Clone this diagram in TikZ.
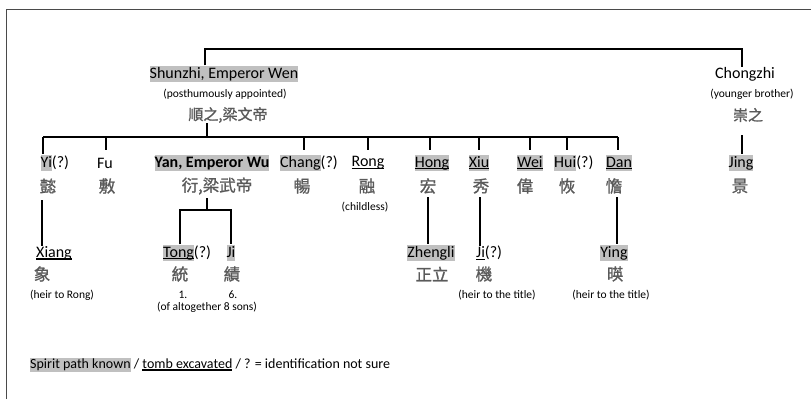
\documentclass[tikz,border=0pt]{standalone}
\usepackage{fontspec}
\setmainfont{Carlito}
\newfontfamily\cjk[FakeBold=1.2]{Noto Sans CJK TC}
\definecolor{hlgray}{HTML}{C0C0C0}
\definecolor{cjkgray}{HTML}{5A5A5A}
\definecolor{framegray}{HTML}{4A4A4A}
\newsavebox\ulbox
\newcommand\ul[1]{\sbox\ulbox{#1}\rlap{\rule[-0.15em]{\wd\ulbox}{0.09em}}\usebox\ulbox}
\newcommand\hl[1]{{\setlength{\fboxsep}{0pt}\colorbox{hlgray}{\rule[-0.27em]{0pt}{1.05em}#1}}}
\tikzset{
  nm/.style={font=\fontsize{16}{19}\selectfont, inner sep=0pt},
  nmb/.style={font=\fontsize{16}{19}\selectfont\bfseries, inner sep=0pt},
  ck/.style={font=\cjk\fontsize{16.5}{19}\selectfont, text=cjkgray, inner sep=0pt},
  cks/.style={font=\cjk\fontsize{15}{18}\selectfont, text=cjkgray, inner sep=0pt},
  sm/.style={font=\fontsize{11.5}{13}\selectfont, inner sep=0pt},
  lg/.style={font=\fontsize{14}{17}\selectfont, inner sep=0pt},
  conn/.style={line width=2.6pt},
}
\begin{document}
\begin{tikzpicture}[x=1pt,y=-1pt]
\useasboundingbox (0,0) rectangle (811,399);
\draw[framegray, line width=1.6pt] (6.5,399) -- (6.5,9.5) -- (811,9.5);

% top generation
\node[nm] (sz) at (224,74) {\hl{Shunzhi, Emperor Wen}};
\node[sm] (szn) at (225,94) {(posthumously appointed)};
\node[cks] (szc) at (228,115) {順之,梁文帝};
\node[nm] (cz) at (745,74) {Chongzhi};
\node[sm] (czn) at (752,94) {(younger brother)};
\node[cks] (czc) at (748,115) {崇之};

\coordinate (tl) at (205,49);
\coordinate (tr) at (742,49);
\draw[conn] (tl |- sz.north) -- (tl) -- (tr) -- (tr |- cz.north);

% children
\node[nm, anchor=west] (yi) at (40.5,163) {\hl{Yi}(?)};
\node[nm] (fu) at (105,163) {Fu};
\node[nmb] (yan) at (212,163) {\hl{Yan, Emperor Wu}};
\node[nm, anchor=west] (chang) at (280,163) {\hl{Chang}(?)};
\node[nm] (rong) at (368,163) {\ul{Rong}};
\node[nm] (hong) at (432,163) {\hl{\ul{Hong}}};
\node[nm] (xiu) at (479,163) {\hl{\ul{Xiu}}};
\node[nm] (wei) at (530,163) {\hl{\ul{Wei}}};
\node[nm, anchor=west] (hui) at (554,163) {\hl{Hui}(?)};
\node[nm] (dan) at (619,163) {\hl{\ul{Dan}}};
\node[nm] (jing) at (741,163) {\hl{Jing}};

\node[ck] (yic) at (48,186) {懿};
\node[ck] (fuc) at (107,186) {敷};
\node[ck] (yanc) at (217,186) {衍,梁武帝};
\node[ck] (changc) at (302,186) {暢};
\node[ck] (rongc) at (367,186) {融};
\node[ck] (hongc) at (428,186) {宏};
\node[ck] (xiuc) at (481,186) {秀};
\node[ck] (weic) at (525,186) {偉};
\node[ck] (huic) at (567,186) {恢};
\node[ck] (danc) at (614,186) {憺};
\node[ck] (jingc) at (740,186) {景};
\node[sm] (childless) at (365,207) {(childless)};

\coordinate (bl) at (43,137);
\coordinate (br) at (618,137);
\draw[conn] (bl) -- (br);
\draw[conn] (207,137) coordinate (bm) -- (bm |- szc.south);
\draw[conn] (bl) -- (bl |- yi.north);
\foreach \n/\x in {fu/106, chang/304, rong/368, hong/430, xiu/479, wei/530, hui/567, dan/618}
  \draw[conn] (\x,137) -- (\x,150);
\draw[conn] (742,135) coordinate (jt) -- (jt |- jing.north);

% grandchildren
\node[nm] (xiang) at (54,253) {\ul{Xiang}};
\node[ck] (xiangc) at (42,274) {象};
\node[sm] (xiangn) at (62,295) {(heir to Rong)};

\node[nm, anchor=west] (tong) at (163,253) {\hl{\ul{Tong}}(?)};
\node[ck] (tongc) at (180,274) {統};
\node[sm] (tongn) at (183,295) {1.};
\node[nm] (ji) at (231,253) {\hl{Ji}};
\node[ck] (jic) at (232,274) {績};
\node[sm] (jin) at (233,295) {6.};
\node[sm] (sons) at (207,307) {(of altogether 8 sons)};

\node[nm] (zl) at (431,253) {\hl{Zhengli}};
\node[ck] (zlc) at (432,274) {正立};

\node[nm, anchor=west] (ji2) at (476,253) {\ul{Ji}(?)};
\node[ck] (ji2c) at (484,274) {機};
\node[sm] (ji2n) at (497,295) {(heir to the title)};

\node[nm] (ying) at (614,253) {\hl{Ying}};
\node[ck] (yingc) at (615,274) {暎};
\node[sm] (yingn) at (611,295) {(heir to the title)};

\draw[conn] (42,200) coordinate (a1) -- (a1 |- xiang.north);
\draw[conn] (207,198) coordinate (y1) -- (207,210) coordinate (y2);
\coordinate (yl) at (180,210);
\coordinate (yr) at (231,210);
\draw[conn] (yl |- tong.north) -- (yl) -- (yr) -- (yr |- ji.north);
\draw[conn] (428,197) coordinate (h1) -- (h1 |- zl.north);
\draw[conn] (480,197) coordinate (x1) -- (x1 |- ji2.north);
\draw[line width=2pt] (617,197) coordinate (d1) -- (d1 |- ying.north);

% legend
\node[lg, anchor=west] (legend) at (30,365) {\hl{Spirit path known} / \ul{tomb excavated} / ? = identification not sure};
\end{tikzpicture}
\end{document}
